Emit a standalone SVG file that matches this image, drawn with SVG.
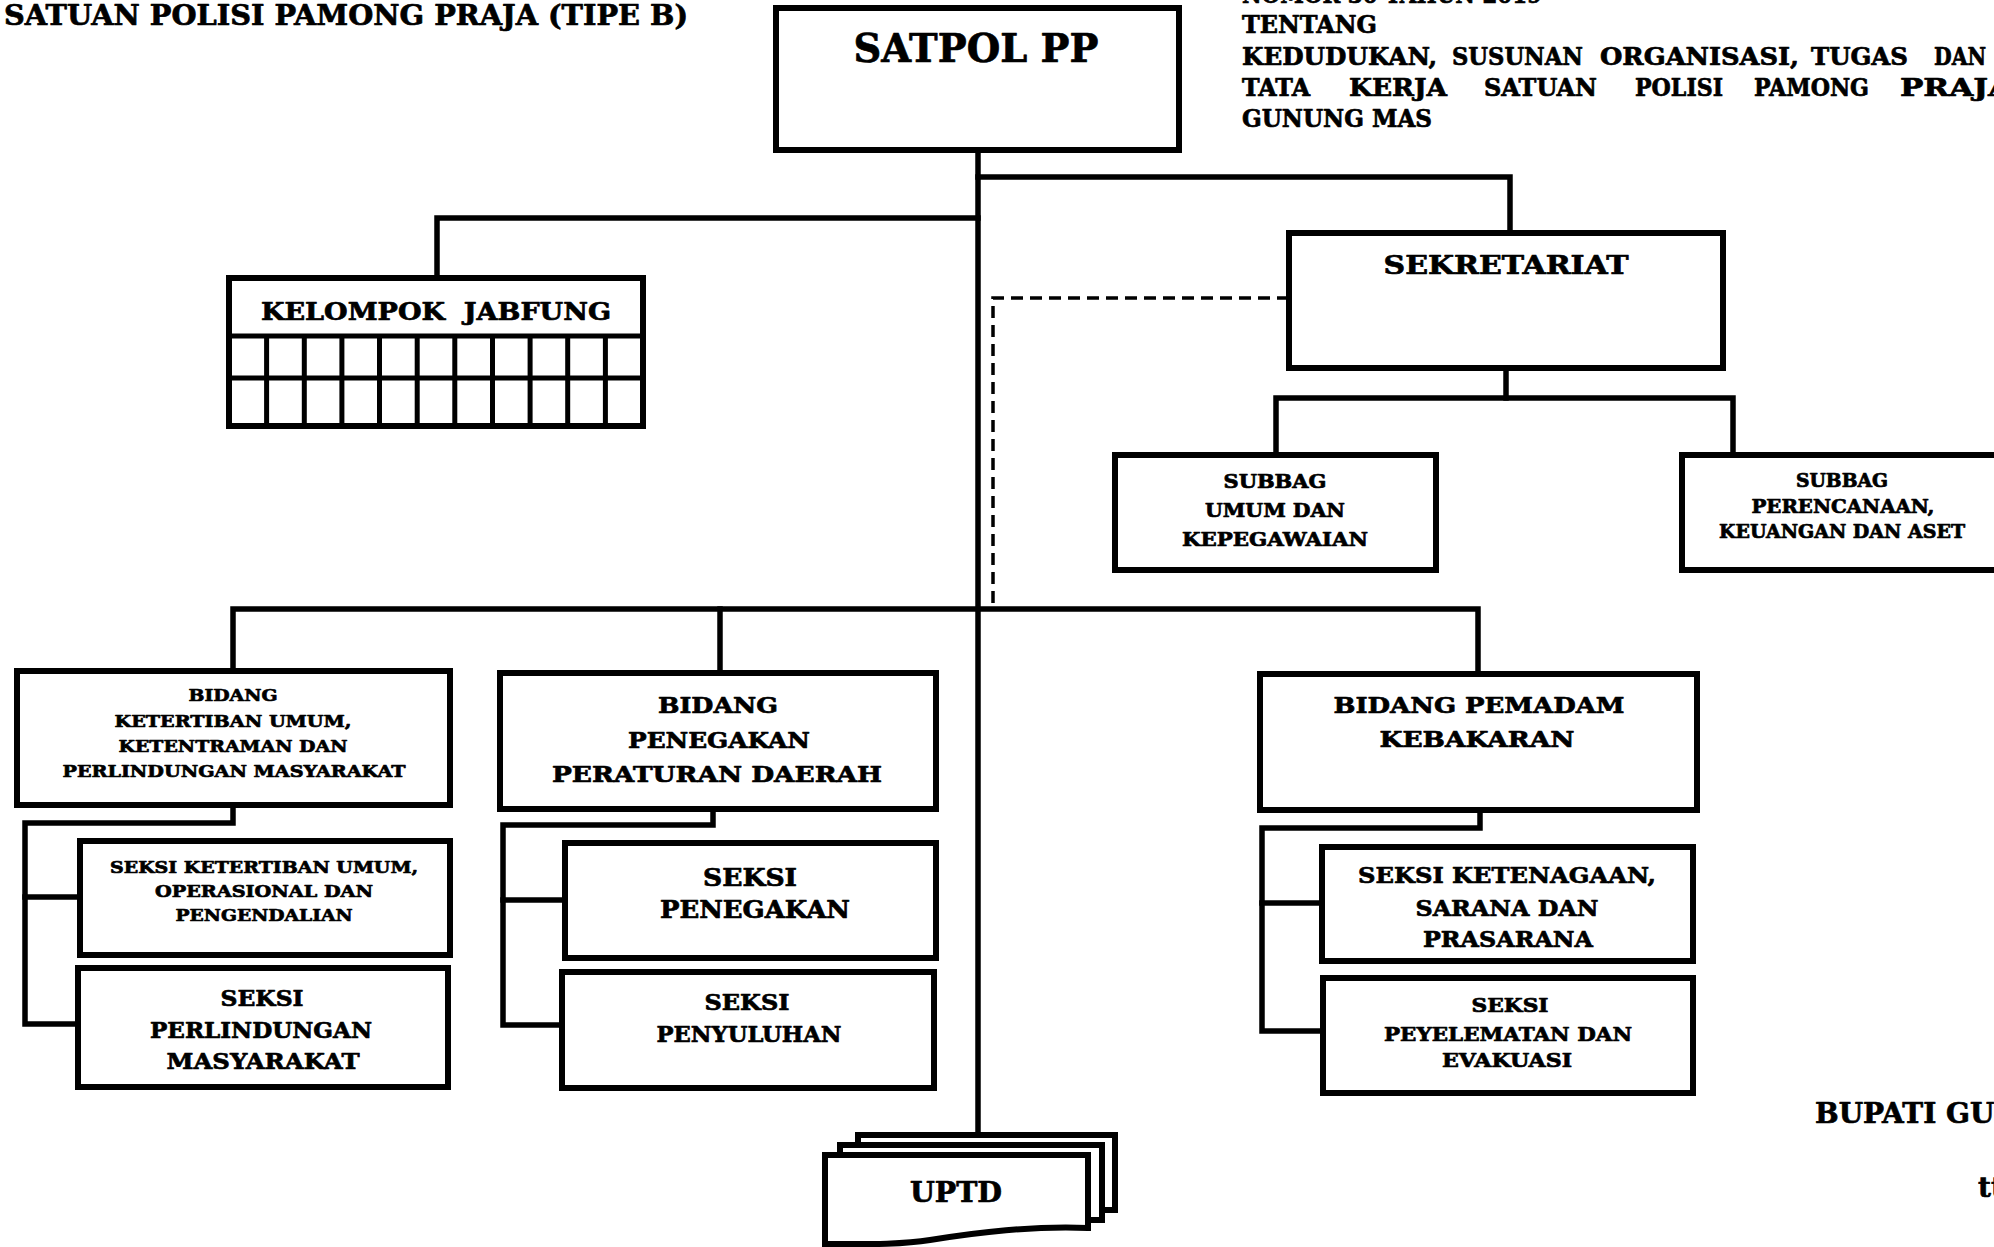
<svg xmlns="http://www.w3.org/2000/svg" width="1994" height="1247" viewBox="0 0 1994 1247">
<style>
.t{font-family:"DejaVu Serif","Liberation Serif",serif;font-weight:bold;fill:#000;stroke:#000;stroke-width:0.7;stroke-linejoin:round}
.c{text-anchor:middle}
.box{fill:#fff;stroke:#000;stroke-width:6}
.ln{fill:none;stroke:#000;stroke-width:5.5;stroke-linejoin:miter;stroke-linecap:square}
.dash{fill:none;stroke:#000;stroke-width:3.5;stroke-dasharray:12 7}
.grid{fill:none;stroke:#000;stroke-width:5}
</style>
<rect width="1994" height="1247" fill="#fff"/>

<g id="header-texts">
<text class="t" x="4" y="25" font-size="27" textLength="684" lengthAdjust="spacingAndGlyphs">SATUAN POLISI PAMONG PRAJA (TIPE B)</text>
<text class="t" x="1242" y="3" font-size="24" textLength="300" lengthAdjust="spacingAndGlyphs">NOMOR 30 TAHUN 2019</text>
<text class="t" x="1242" y="33" font-size="24" textLength="135" lengthAdjust="spacingAndGlyphs">TENTANG</text>
<text class="t" x="1242" y="65" font-size="24" textLength="195" lengthAdjust="spacingAndGlyphs">KEDUDUKAN,</text>
<text class="t" x="1452" y="65" font-size="24" textLength="131" lengthAdjust="spacingAndGlyphs">SUSUNAN</text>
<text class="t" x="1600" y="65" font-size="24" textLength="199" lengthAdjust="spacingAndGlyphs">ORGANISASI,</text>
<text class="t" x="1811" y="65" font-size="24" textLength="97" lengthAdjust="spacingAndGlyphs">TUGAS</text>
<text class="t" x="1934" y="65" font-size="24" textLength="52" lengthAdjust="spacingAndGlyphs">DAN</text>
<text class="t" x="1242" y="96" font-size="24" textLength="68" lengthAdjust="spacingAndGlyphs">TATA</text>
<text class="t" x="1349" y="96" font-size="24" textLength="98" lengthAdjust="spacingAndGlyphs">KERJA</text>
<text class="t" x="1484" y="96" font-size="24" textLength="113" lengthAdjust="spacingAndGlyphs">SATUAN</text>
<text class="t" x="1635" y="96" font-size="24" textLength="88" lengthAdjust="spacingAndGlyphs">POLISI</text>
<text class="t" x="1754" y="96" font-size="24" textLength="115" lengthAdjust="spacingAndGlyphs">PAMONG</text>
<text class="t" x="1900" y="96" font-size="24" textLength="112" lengthAdjust="spacingAndGlyphs">PRAJA</text>
<text class="t" x="1242" y="127" font-size="24" textLength="190" lengthAdjust="spacingAndGlyphs">GUNUNG MAS</text>
<text class="t" x="1815" y="1123" font-size="28">BUPATI GUNUNG MAS</text>
<text class="t" x="1978" y="1197" font-size="28">ttd</text>
</g>

<g id="connectors">
<path class="ln" d="M978,150 V1137"/>
<path class="ln" d="M978,177 H1510 V233"/>
<path class="ln" d="M978,218 H437 V278"/>
<path class="dash" d="M1289,298 H993 V609"/>
<path class="ln" d="M1506,368 V398"/>
<path class="ln" d="M1276,455 V398 H1733 V455"/>
<path class="ln" d="M233,671 V609 H1478 V674"/>
<path class="ln" d="M720,609 V673"/>
<path class="ln" d="M233,805 V823 H25 V1024 H78"/>
<path class="ln" d="M25,897 H80"/>
<path class="ln" d="M713,809 V825 H503 V1025 H562"/>
<path class="ln" d="M503,900 H565"/>
<path class="ln" d="M1480,810 V828 H1262 V1031 H1323"/>
<path class="ln" d="M1262,903 H1322"/>
</g>

<g id="satpol">
<rect class="box" x="776" y="8" width="403" height="142"/>
<text class="t c" x="976" y="62" font-size="40" textLength="245" lengthAdjust="spacingAndGlyphs" stroke-width="1">SATPOL PP</text>
</g>

<g id="jabfung">
<rect class="box" x="229" y="278" width="414" height="148"/>
<path class="grid" d="M229,336 H643 M229,378 H643 M266.6,336 V426 M304.3,336 V426 M341.9,336 V426 M379.5,336 V426 M417.2,336 V426 M454.8,336 V426 M492.5,336 V426 M530.1,336 V426 M567.7,336 V426 M605.4,336 V426"/>
<text class="t c" x="436" y="320" font-size="24" textLength="350" lengthAdjust="spacingAndGlyphs" xml:space="preserve">KELOMPOK  JABFUNG</text>
</g>

<g id="sekretariat">
<rect class="box" x="1289" y="233" width="434" height="135"/>
<text class="t c" x="1506" y="274" font-size="26" textLength="245" lengthAdjust="spacingAndGlyphs">SEKRETARIAT</text>
</g>

<g id="subbag-umum">
<rect class="box" x="1115" y="455" width="321" height="115"/>
<text class="t c" x="1275" y="488" font-size="19" textLength="103" lengthAdjust="spacingAndGlyphs">SUBBAG</text>
<text class="t c" x="1275" y="517" font-size="19" textLength="140" lengthAdjust="spacingAndGlyphs">UMUM DAN</text>
<text class="t c" x="1275" y="546" font-size="19" textLength="186" lengthAdjust="spacingAndGlyphs">KEPEGAWAIAN</text>
</g>

<g id="subbag-perencanaan">
<rect class="box" x="1682" y="455" width="330" height="115"/>
<text class="t c" x="1842" y="487" font-size="18" textLength="92" lengthAdjust="spacingAndGlyphs">SUBBAG</text>
<text class="t c" x="1843" y="513" font-size="18" textLength="183" lengthAdjust="spacingAndGlyphs">PERENCANAAN,</text>
<text class="t c" x="1842" y="538" font-size="18" textLength="246" lengthAdjust="spacingAndGlyphs">KEUANGAN DAN ASET</text>
</g>

<g id="bidang-ketertiban">
<rect class="box" x="17" y="671" width="433" height="134"/>
<text class="t c" x="233" y="701" font-size="17" textLength="89" lengthAdjust="spacingAndGlyphs">BIDANG</text>
<text class="t c" x="233" y="727" font-size="17" textLength="237" lengthAdjust="spacingAndGlyphs">KETERTIBAN UMUM,</text>
<text class="t c" x="233" y="752" font-size="17" textLength="229" lengthAdjust="spacingAndGlyphs">KETENTRAMAN DAN</text>
<text class="t c" x="234" y="777" font-size="17" textLength="343" lengthAdjust="spacingAndGlyphs">PERLINDUNGAN MASYARAKAT</text>
</g>

<g id="seksi-ketertiban">
<rect class="box" x="80" y="841" width="370" height="114"/>
<text class="t c" x="264" y="873" font-size="17" textLength="308" lengthAdjust="spacingAndGlyphs">SEKSI KETERTIBAN UMUM,</text>
<text class="t c" x="264" y="897" font-size="17" textLength="218" lengthAdjust="spacingAndGlyphs">OPERASIONAL DAN</text>
<text class="t c" x="264" y="921" font-size="17" textLength="177" lengthAdjust="spacingAndGlyphs">PENGENDALIAN</text>
</g>

<g id="seksi-perlindungan">
<rect class="box" x="78" y="968" width="370" height="119"/>
<text class="t c" x="262" y="1006" font-size="23" textLength="83" lengthAdjust="spacingAndGlyphs">SEKSI</text>
<text class="t c" x="261" y="1038" font-size="23" textLength="222" lengthAdjust="spacingAndGlyphs">PERLINDUNGAN</text>
<text class="t c" x="263" y="1069" font-size="23" textLength="193" lengthAdjust="spacingAndGlyphs">MASYARAKAT</text>
</g>

<g id="bidang-penegakan">
<rect class="box" x="500" y="673" width="436" height="136"/>
<text class="t c" x="718" y="713" font-size="23" textLength="120" lengthAdjust="spacingAndGlyphs">BIDANG</text>
<text class="t c" x="719" y="748" font-size="23" textLength="182" lengthAdjust="spacingAndGlyphs">PENEGAKAN</text>
<text class="t c" x="717" y="782" font-size="23" textLength="330" lengthAdjust="spacingAndGlyphs">PERATURAN DAERAH</text>
</g>

<g id="seksi-penegakan">
<rect class="box" x="565" y="843" width="371" height="115"/>
<text class="t c" x="750" y="886" font-size="24" textLength="94" lengthAdjust="spacingAndGlyphs">SEKSI</text>
<text class="t c" x="755" y="918" font-size="24" textLength="190" lengthAdjust="spacingAndGlyphs">PENEGAKAN</text>
</g>

<g id="seksi-penyuluhan">
<rect class="box" x="562" y="972" width="372" height="116"/>
<text class="t c" x="747" y="1010" font-size="23" textLength="85" lengthAdjust="spacingAndGlyphs">SEKSI</text>
<text class="t c" x="749" y="1042" font-size="23" textLength="185" lengthAdjust="spacingAndGlyphs">PENYULUHAN</text>
</g>

<g id="bidang-pemadam">
<rect class="box" x="1260" y="674" width="437" height="136"/>
<text class="t c" x="1479" y="713" font-size="23" textLength="291" lengthAdjust="spacingAndGlyphs">BIDANG PEMADAM</text>
<text class="t c" x="1477" y="747" font-size="23" textLength="195" lengthAdjust="spacingAndGlyphs">KEBAKARAN</text>
</g>

<g id="seksi-ketenagaan">
<rect class="box" x="1322" y="847" width="371" height="114"/>
<text class="t c" x="1507" y="883" font-size="23" textLength="298" lengthAdjust="spacingAndGlyphs">SEKSI KETENAGAAN,</text>
<text class="t c" x="1507" y="916" font-size="23" textLength="183" lengthAdjust="spacingAndGlyphs">SARANA DAN</text>
<text class="t c" x="1508" y="947" font-size="23" textLength="170" lengthAdjust="spacingAndGlyphs">PRASARANA</text>
</g>

<g id="seksi-penyelamatan">
<rect class="box" x="1323" y="978" width="370" height="115"/>
<text class="t c" x="1510" y="1012" font-size="19" textLength="77" lengthAdjust="spacingAndGlyphs">SEKSI</text>
<text class="t c" x="1508" y="1041" font-size="19" textLength="248" lengthAdjust="spacingAndGlyphs">PEYELEMATAN DAN</text>
<text class="t c" x="1507" y="1067" font-size="19" textLength="130" lengthAdjust="spacingAndGlyphs">EVAKUASI</text>
</g>

<g id="uptd">
<rect class="box" x="858" y="1135" width="257" height="75" stroke-width="5"/>
<rect class="box" x="840" y="1145" width="262" height="75" stroke-width="5"/>
<path class="box" stroke-width="5" d="M825,1155 H1088 V1228 C1030,1226 980,1232 930,1240 C900,1245 860,1244 825,1244 Z"/>
<text class="t c" x="956" y="1202" font-size="28" textLength="92" lengthAdjust="spacingAndGlyphs" stroke-width="0.9">UPTD</text>
</g>
</svg>
